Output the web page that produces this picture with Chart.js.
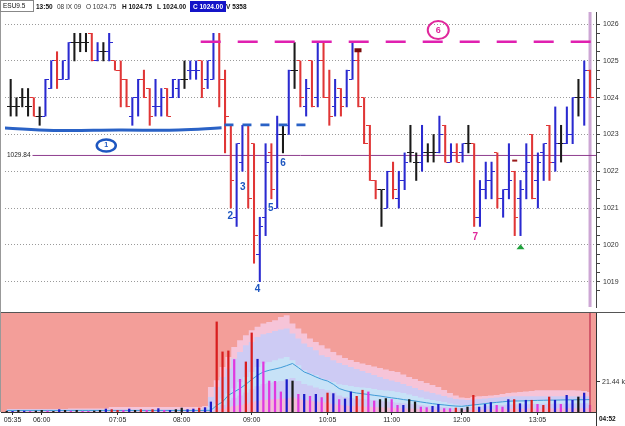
<!DOCTYPE html>
<html><head><meta charset="utf-8">
<script src="https://cdn.jsdelivr.net/npm/chart.js@4.4.0/dist/chart.umd.min.js"></script>
<style>
html,body{margin:0;padding:0;background:#fff;}
#wrap{position:relative;width:625px;height:426px;overflow:hidden;font-family:"Liberation Sans",Arial,sans-serif;}
canvas{position:absolute;left:0;}
#c1{top:0;}
#c2{top:313px;}
.hd{position:absolute;top:1px;height:11px;font-size:6.5px;font-weight:bold;line-height:11px;color:#111;white-space:nowrap;}
</style></head><body>
<div id="wrap">
<canvas id="c1" width="625" height="312"></canvas>
<canvas id="c2" width="625" height="113"></canvas>
<div style="position:absolute;left:0;top:312px;width:625px;height:1px;background:#555"></div>
<div style="position:absolute;left:0;top:0;width:1px;height:412px;background:#999"></div>
<div style="position:absolute;left:596px;top:412px;width:1px;height:14px;background:#333"></div>
<div id="hdr"></div>
<div class="hd" style="left:599px;top:413px;font-size:6.5px;">04:52</div>
</div>
<script>
// ---------- DATA ----------
const times = ('05:30 05:35 05:40 05:45 05:50 05:55 ' +
 '06:00 06:05 06:10 06:15 06:20 06:25 06:30 06:35 06:40 06:45 06:50 06:55 ' +
 '07:00 07:05 07:10 07:15 07:20 07:25 07:30 07:35 07:40 07:45 07:50 07:55 ' +
 '08:00 08:05 08:10 08:15 08:20 08:25 08:30 08:35 08:40 08:45 08:50 08:55 ' +
 '09:00 09:05 09:10 09:15 09:20 09:25 09:30 09:35 09:40 09:45 09:50 09:55 ' +
 '10:00 10:05 10:10 10:15 10:20 10:25 10:30 10:35 10:40 10:45 10:50 10:55 ' +
 '11:00 11:05 11:10 11:15 11:20 11:25 11:30 11:35 11:40 11:45 11:50 11:55 ' +
 '12:00 12:05 12:10 12:15 12:20 12:25 12:30 12:35 12:40 12:45 12:50 12:55 ' +
 '13:00 13:05 13:10 13:15 13:20 13:25 13:30 13:35 13:40 13:45 13:50').split(' ');

const timeTickLabels = ['05:35','06:00','07:05','08:00','09:00','10:05','11:00','12:00','13:05'];
const priceTickLabels = [1019,1020,1021,1022,1023,1024,1025,1026];
const volTickLabels = [21.44];

const open = [1023.75,1023.75,1024.0,1023.75,1024.0,1023.5,1023.5,1024.25,1025.0,1024.5,
 1024.5,1025.5,1025.5,1025.5,1025.75,1025.0,1025.25,1025.25,1025.0,1024.75,
 1024.5,1023.5,1024.0,1024.5,1024.25,1023.75,1023.75,1024.25,1024.0,1024.25,
 1024.5,1024.75,1024.75,1025.0,1024.5,1024.5,1025.5,1024.5,1023.25,1020.75,
 1022.25,1023.25,1022.75,1019.75,1020.75,1022.5,1021.0,1023.0,1023.25,1024.75,
 1025.0,1023.75,1025.0,1024.0,1025.0,1024.0,1023.75,1024.25,1024.0,1024.5,
 1025.0,1024.0,1023.25,1021.75,1021.5,1021.0,1022.0,1021.25,1021.75,1022.5,
 1022.25,1022.25,1022.5,1022.5,1022.5,1023.25,1022.25,1022.5,1022.5,1022.75,
 1022.75,1020.75,1021.5,1021.75,1022.5,1021.25,1021.5,1022.0,1021.25,1022.0,
 1023.0,1021.75,1022.5,1023.25,1022.25,1022.75,1022.75,1023.0,1024.0,1024.0,
 1024.75];
const high = [1024.5,1024.0,1024.25,1024.25,1024.0,1023.75,1024.5,1025.0,1025.25,1025.0,
 1025.5,1025.75,1025.75,1025.75,1025.75,1025.5,1025.5,1025.75,1025.0,1025.0,
 1024.5,1024.0,1024.5,1024.75,1024.25,1024.5,1024.25,1024.25,1024.5,1024.5,
 1025.0,1025.0,1025.0,1025.0,1025.0,1025.75,1025.75,1024.75,1023.25,1022.75,
 1023.25,1023.25,1022.75,1020.75,1022.75,1022.75,1023.5,1023.25,1024.75,1025.5,
 1025.0,1024.5,1025.0,1025.5,1025.5,1024.75,1024.5,1024.25,1024.75,1025.5,
 1025.25,1024.0,1023.25,1021.75,1021.5,1022.0,1022.25,1022.0,1022.5,1023.25,
 1022.5,1023.25,1022.75,1023.0,1023.5,1023.25,1022.75,1022.75,1022.75,1023.25,
 1022.75,1021.75,1022.25,1022.25,1022.5,1021.5,1022.75,1022.0,1021.75,1022.75,
 1023.0,1022.5,1022.75,1023.25,1023.75,1023.25,1023.75,1024.0,1024.5,1025.0,
 1024.75];
const low = [1023.5,1023.5,1023.75,1023.5,1023.5,1023.25,1023.5,1024.25,1024.25,1024.5,
 1024.5,1025.0,1025.25,1025.25,1025.0,1025.0,1025.0,1025.0,1024.75,1023.75,
 1023.75,1023.25,1023.5,1024.0,1023.25,1023.5,1023.5,1023.5,1024.0,1024.0,
 1024.25,1024.5,1024.5,1024.0,1024.25,1024.5,1023.75,1022.5,1021.0,1020.5,
 1022.0,1021.0,1019.5,1019.0,1020.25,1021.25,1021.0,1022.5,1023.0,1024.25,
 1023.75,1023.5,1023.75,1023.75,1024.0,1023.25,1023.5,1023.5,1023.75,1024.5,
 1023.75,1022.75,1021.75,1021.25,1020.5,1021.0,1021.25,1021.0,1021.5,1022.25,
 1021.75,1022.0,1022.25,1022.25,1022.5,1022.25,1022.25,1022.25,1022.25,1022.5,
 1020.5,1020.5,1021.25,1021.25,1021.0,1020.75,1021.25,1020.25,1020.25,1021.25,
 1021.25,1021.0,1021.75,1021.75,1022.0,1022.25,1022.75,1022.75,1023.5,1023.25,
 1024.0];
const close = [1023.75,1023.75,1024.0,1023.75,1023.5,1023.5,1024.5,1025.0,1024.5,1025.0,
 1025.5,1025.5,1025.5,1025.5,1025.0,1025.25,1025.25,1025.5,1024.75,1024.5,
 1023.75,1024.0,1024.5,1024.0,1023.5,1023.75,1024.0,1023.5,1024.5,1024.5,
 1024.5,1024.75,1024.75,1024.25,1025.0,1025.5,1024.5,1023.5,1021.75,1022.75,
 1023.25,1021.25,1020.25,1020.5,1022.25,1021.5,1023.0,1023.0,1024.75,1024.75,
 1024.0,1024.25,1023.75,1025.0,1024.0,1023.5,1024.0,1023.75,1024.75,1025.0,
 1023.75,1022.75,1021.75,1021.5,1021.5,1022.0,1021.5,1021.75,1022.25,1022.5,
 1022.25,1022.5,1022.5,1022.5,1023.0,1022.25,1022.5,1022.25,1022.75,1022.75,
 1020.75,1021.5,1021.75,1022.0,1021.25,1021.5,1021.75,1020.75,1021.5,1022.25,
 1021.25,1022.25,1022.75,1022.25,1022.75,1022.75,1023.0,1024.0,1024.0,1024.75,
 1024.0];
// bar colour codes: k = unchanged, r = down, b = up
const barKind = ('kkkkrkbbrb' + 'bkkkrbkbrr' + 'rbbrrbbrbb' + 'kbbrbbrrrb' + 'brrbbrbkbk' +
 'rbrbrrbrbb' + 'rrrrkbrbbk' + 'kbkkbrbrbk' + 'rbbbrbbrbb' + 'rbbrbkbbkb' + 'r').split('');

// volume (thousands)
const volume = [0.5,0.5,1.2,0.7,0.5,0.7,1.2,0.7,0.5,1.7,1.2,0.7,1.2,0.5,0.5,0.7,1.2,2.1,1.7,1.2,
 1.2,2.1,1.2,1.7,1.2,1.7,2.4,1.2,1.2,1.7,2.8,1.7,2.1,2.8,3.1,
 7.1,63.7,42.5,43.2,37.1,23.1,35.4,55.9,37.3,35.4,21.9,21.7,14.2,22.9,21.9,12.5,12.5,11.1,12.5,10.2,13.4,13.0,8.8,9.2,
 14.2,11.1,15.4,14.2,7.8,8.8,9.5,8.8,4.7,4.7,8.8,7.1,3.5,3.1,4.0,5.4,2.4,2.4,2.8,2.4,
 3.5,11.8,3.5,5.4,6.7,4.7,3.5,8.8,8.8,5.9,8.3,8.3,5.4,4.7,10.6,8.3,5.4,11.8,8.3,10.6,13.4,4.7];
const volKind = ('kbkbmkkmkb' + 'kmkmmkkbrr' + 'mbkrmrbmbk' + 'kbbrb' +
 'brrrmmrrbmmmmbkmbmbmrbmb' +
 'brrmmkkmmbkkmmbbmmrkkrbbbmmbrbbrmrrbmbbkbm').split('');

// time-of-day volume profile bands (thousands)
const band2Hi = [2.1,2.1,2.1,2.1,2.1,2.1,2.1,2.1,2.1,2.1,2.1,
 2.5,2.5,2.5,2.5,2.5,2.5,2.5,
 3.5,3.5,3.5,3.5,3.5,3.5,3.5,3.5,3.5,3.5,3.5,3.5,3.5,3.5,3.5,3.5,
 4.2,
 17.7,22.4,31.8,38.9,46,50.7,54.3,57.8,60.2,62.6,63.7,64.9,67.2,68.4,62.6,59,55.5,51.9,49.5,47.2,44.9,42.5,40.1,
 38.2,36.8,35.4,34.3,33.3,32.2,31.1,30.1,29,28.3,26.5,24.8,23.4,21.9,20.5,19.1,17.7,15.6,13.4,11.7,
 10.2,9.9,10.6,11.1,11.3,11.7,12,12.7,13.4,13.8,14.2,14.5,14.9,15.4,15.4,15.4,15.4,15.4,15.4,15.4,15.2,14.9,14.2];
const band1Hi = [1.8,1.8,1.8,1.8,1.8,1.8,1.8,1.8,1.8,1.8,1.8,1.8,1.8,1.8,1.8,1.8,1.8,
 1.8,1.8,1.8,1.8,1.8,1.8,1.8,1.8,1.8,1.8,1.8,1.8,1.8,1.8,1.8,1.8,1.8,
 2.8,
 10.6,17.7,24.8,30.7,37.8,42.5,47.2,49.5,53.1,55,55.9,57.3,58.3,59,55.5,51.9,48.4,46,43.7,40.1,38.9,36.6,34.7,
 33.3,31.8,30.4,29,27.6,26.2,24.8,23.4,22.3,21.2,19.8,18.4,17,15.6,14.5,13.4,12.4,11.3,10.3,9.2,
 8.8,8.5,8.8,9.2,9.6,9.9,10.3,10.6,11,11.1,11.1,11.1,11.1,11.1,11.1,11.1,11.1,11.1,11.1,11.1,11.1,11.1,11.1];
const band0Hi = [1.1,1.1,1.1,1.1,1.1,1.1,1.1,1.1,1.1,1.1,1.1,1.1,1.1,1.1,1.1,1.1,1.1,1.1,
 1.1,1.1,1.1,1.1,1.1,1.1,1.1,1.1,1.1,1.1,1.1,1.1,1.1,1.1,1.1,1.1,1.1,
 3.5,5.9,9.5,13,16.6,21.2,24.8,28.3,31.8,34.3,35.4,36.6,37.8,38.9,36.6,33,29.5,27.2,26,23.6,22.4,21.2,19.6,
 19.1,18.4,17.7,17.3,17,16.3,15.6,15.2,14.9,14.2,13.4,12.4,11.3,10.3,9.2,8.5,7.8,7.1,6,5.3,
 4.7,5,5.3,5.7,6,6.4,6.7,7.1,7.4,7.8,8.1,8.1,8.1,8.1,8.1,8.1,8.1,8.1,8.1,8.1,8.1,8.1,8.1];
const band0Lo = [0.6,0.6,0.6,0.6,0.6,0.6,0.6,0.6,0.6,0.6,0.6,0.6,0.6,0.6,0.6,0.6,0.6,0.6,
 0.6,0.6,0.6,0.6,0.6,0.6,0.6,0.6,0.6,0.6,0.6,0.6,0.6,0.6,0.6,0.6,0.6,
 0.8,3.3,5.0,8.3,10.0,11.6,13.7,16.0,18.2,19.8,20.6,21.3,22.0,23.0,24.0,22.0,19.8,18.7,17.4,16.2,15.3,13.7,11.6,
 10.6,9.9,9.4,9.0,8.7,8.3,7.9,7.4,7.0,6.6,6.2,5.8,5.5,5.0,4.5,4.1,3.8,3.5,3.2,2.9,
 2.8,3.2,3.5,3.8,4.1,4.5,4.8,5.0,5.3,5.5,5.5,5.5,5.7,5.7,5.8,5.9,5.9,6.0,6.0,6.0,6.1,6.1,6.2];
const band1Lo = [0.3,0.3,0.3,0.3,0.3,0.3,0.3,0.3,0.3,0.3,0.3,0.3,0.3,0.3,0.3,0.3,0.3,0.3,
 0.3,0.3,0.3,0.3,0.3,0.3,0.3,0.3,0.3,0.3,0.3,0.3,0.3,0.3,0.3,0.3,0.3,
 0.4,1.4,2.1,3.5,4.3,5.0,5.9,6.9,7.8,8.5,8.9,9.1,9.4,9.8,10.3,9.4,8.5,8.0,7.4,6.9,6.6,5.9,5.0,
 4.6,4.3,4.0,3.9,3.7,3.5,3.4,3.2,3.0,2.9,2.6,2.5,2.3,2.1,2.0,1.8,1.6,1.5,1.4,1.3,
 1.2,1.4,1.5,1.6,1.8,1.9,2.0,2.2,2.3,2.3,2.3,2.4,2.4,2.5,2.5,2.5,2.5,2.6,2.6,2.6,2.6,2.6,2.6];
const volAvg = [1.1,1.1,1.1,1.1,1.1,1.1,1.1,1.1,1.1,1.1,1.1,1.1,1.1,1.1,1.1,1.1,1.1,1.1,
 1.1,1.1,1.1,1.1,1.1,1.1,1.1,1.1,1.1,1.1,1.1,1.1,1.1,1.1,1.1,1.1,1.1,
 1.2,4.7,7.1,11.8,14.2,16.6,19.6,22.9,26,28.3,29.5,30.4,31.4,32.8,34.3,31.4,28.3,26.7,24.8,23.1,21.9,19.6,16.6,
 15.2,14.2,13.4,12.9,12.4,11.8,11.3,10.6,10,9.5,8.8,8.3,7.8,7.1,6.5,5.9,5.4,5,4.5,4.2,
 4,4.5,5,5.4,5.9,6.4,6.8,7.2,7.6,7.8,7.8,7.9,8.1,8.2,8.3,8.4,8.4,8.5,8.6,8.6,8.7,8.7,8.8];

// reference level and hand-drawn annotations (data coordinates: bar index, price)
const refLevel = 1022.43;
const refLabel = '1029.84';
const cursorIndex = 100;
const supportLine1 = [[-1.15,1023.18],[7.4,1023.11],[18.7,1023.12],[29.0,1023.12],[36.4,1023.18]];
const supportDashes = [[36.9,1023.26],[51.7,1023.26]];
const resistDashes = [[32.8,1025.52],[100.7,1025.52]];
const blueNumbers = [['2',37.9,1020.77],['3',40.05,1021.56],['4',42.6,1018.8],['5',44.9,1021.0],['6',47.0,1022.22]];
const pinkNumbers = [['7',80.2,1020.2]];
const blueEllipse = ['1',16.5,1022.7];
const pinkCircle = ['6',73.8,1025.84];
const greenArrows = [[88.0,1019.95]];
const darkRedMarks = [[59.95,1025.29,'big'],[87.0,1022.29,'small']];

const headerItems = [['ESU9.5','box'],['13:50','b'],['08 IX 09','n'],['O 1024.75','n'],['H 1024.75','b'],['L 1024.00','b'],['C 1024.00','hl'],['V 5358','b']];

// ---------- RENDER ----------
const hdrPos = [0,36,57,86,122,157,190,226];
const hdr = document.getElementById('hdr');
headerItems.forEach(([t,k],j)=>{
  const d = document.createElement('div');
  d.className='hd'; d.textContent=t; d.style.left=hdrPos[j]+'px';
  if(k==='box'){d.style.top='0px';d.style.width='30px';d.style.border='1px solid #888';d.style.paddingLeft='2px';d.style.fontWeight='normal';d.style.height='10px';d.style.lineHeight='10px';}
  if(k==='n'){d.style.fontWeight='normal';d.style.color='#333';}
  if(k==='hl'){d.style.background='#1414c8';d.style.color='#fff';d.style.padding='0 3px';}
  hdr.appendChild(d);
});

const FONT = '"Liberation Sans", Arial, sans-serif';
const pal = {k:'#1a1a1a', r:'#e03636', b:'#2a2ad0', m:'#e034e0'};
const volPal = {k:'#1a1a1a', r:'#d81e1e', b:'#1c1cc8', m:'#e038e0'};
const xMin = -0.98, xMax = 101.03;
const yMin = 1018.31, yMax = 1026.33;

function tickImg(color, side){
  const c = document.createElement('canvas'); c.width = 7; c.height = 1;
  const g = c.getContext('2d'); g.fillStyle = color;
  if (side === 'L') g.fillRect(0,0,3,1); else g.fillRect(4,0,3,1);
  return c;
}
const tickImgs = {};
Object.keys(pal).forEach(k => { tickImgs[k] = {L: tickImg(pal[k],'L'), R: tickImg(pal[k],'R')}; });

const timeTickIdx = timeTickLabels.map(t => times.indexOf(t));

const annot = {
  id:'annot',
  afterDatasetsDraw(chart){
    const {ctx, scales:{x, y}, chartArea:a} = chart;
    const X = v => x.getPixelForValue(v), Y = v => y.getPixelForValue(v);
    ctx.save();
    // reference label
    ctx.font = '6.5px ' + FONT;
    ctx.textBaseline = 'middle'; ctx.textAlign = 'left';
    const ry = Y(refLevel);
    const w = ctx.measureText(refLabel).width;
    ctx.fillStyle = '#fff'; ctx.fillRect(a.left, ry - 4, w + 4, 8);
    ctx.fillStyle = '#222'; ctx.fillText(refLabel, a.left + 2, ry);
    // numbers
    ctx.textAlign = 'center';
    ctx.font = 'bold 10px ' + FONT;
    ctx.fillStyle = '#1d56c0';
    blueNumbers.forEach(([t,i,p]) => ctx.fillText(t, X(i), Y(p)));
    ctx.fillStyle = '#e0289c';
    pinkNumbers.forEach(([t,i,p]) => ctx.fillText(t, X(i), Y(p)));
    // blue ellipse with 1
    ctx.strokeStyle = '#1d56c0'; ctx.lineWidth = 2.5;
    ctx.beginPath(); ctx.ellipse(X(blueEllipse[1]), Y(blueEllipse[2]), 9.5, 6, 0, 0, Math.PI*2); ctx.stroke();
    ctx.font = 'bold 7px ' + FONT; ctx.fillStyle = '#1d56c0';
    ctx.fillText(blueEllipse[0], X(blueEllipse[1]), Y(blueEllipse[2]));
    // pink circle with 6
    ctx.strokeStyle = '#e0289c'; ctx.lineWidth = 2;
    ctx.beginPath(); ctx.ellipse(X(pinkCircle[1]), Y(pinkCircle[2]), 10.5, 9, 0, 0, Math.PI*2); ctx.stroke();
    ctx.font = 'bold 9px ' + FONT; ctx.fillStyle = '#e0289c';
    ctx.fillText(pinkCircle[0], X(pinkCircle[1]), Y(pinkCircle[2]));
    // green arrows
    ctx.fillStyle = '#1fa03c';
    greenArrows.forEach(([i,p]) => {
      const cx = X(i), cy = Y(p);
      ctx.beginPath(); ctx.moveTo(cx, cy - 2.5); ctx.lineTo(cx + 4, cy + 2.5); ctx.lineTo(cx - 4, cy + 2.5); ctx.closePath(); ctx.fill();
    });
    // dark red marks
    darkRedMarks.forEach(([i,p,s]) => {
      const cx = X(i), cy = Y(p);
      ctx.fillStyle = s === 'big' ? '#7a0c0c' : '#9a1a1a';
      if (s === 'big') ctx.fillRect(cx - 3.5, cy - 2, 7, 4); else ctx.fillRect(cx - 2.5, cy - 1, 5, 2);
    });
    ctx.restore();
  }
};

const pts = (arr) => arr.map(([i,p]) => ({x:i, y:p}));

new Chart(document.getElementById('c1'), {
  type: 'bar',
  data: { datasets: [
    { type:'line', data: pts(resistDashes), borderColor:'#e020b0', borderWidth:2.6, borderDash:[20,17], pointRadius:0, order:1 },
    { type:'line', data: pts(supportLine1), borderColor:'#2a62c6', borderWidth:3, tension:0.4, pointRadius:0, order:1 },
    { type:'line', data: pts(supportDashes), borderColor:'#2a62c6', borderWidth:2.6, borderDash:[9,9], pointRadius:0, order:1 },
    { type:'line', showLine:false, data: open.map((v,i)=>({x:i, y:v})),
      pointStyle: c => tickImgs[barKind[c.dataIndex]].L, pointRadius:3, order:3 },
    { type:'line', showLine:false, data: close.map((v,i)=>({x:i, y:v})),
      pointStyle: c => tickImgs[barKind[c.dataIndex]].R, pointRadius:3, order:3 },
    { type:'bar', data: times.map((t,i)=>({x:i, y:[low[i], high[i]]})),
      backgroundColor: barKind.map(k => pal[k]), barThickness:1.4, order:4 },
    { type:'line', data: [{x:xMin, y:refLevel},{x:xMax, y:refLevel}], borderColor:'#8e3d8e', borderWidth:1, pointRadius:0, order:6 },
    { type:'line', data: [{x:cursorIndex, y:yMin},{x:cursorIndex, y:yMax}], borderColor:'rgba(196,150,204,0.85)', borderWidth:3, pointRadius:0, order:7 }
  ]},
  options: {
    responsive:false, devicePixelRatio:1, animation:false,
    layout:{padding:{top:12, bottom:2, left:1, right:0}},
    plugins:{legend:{display:false}, tooltip:{enabled:false}},
    scales:{
      x:{type:'linear', display:false, min:xMin, max:xMax, offset:false, grid:{offset:false}},
      y:{type:'linear', position:'right', min:yMin, max:yMax,
        ticks:{stepSize:0.25, autoSkip:false, color:'#333', padding:3, font:{size:7, family:FONT},
          callback: v => priceTickLabels.includes(v) ? String(v) : ''},
        afterBuildTicks: s => { s.ticks = s.ticks.filter(t => Math.abs(t.value*4 - Math.round(t.value*4)) < 1e-6); },
        grid:{color: c => (c.tick && priceTickLabels.includes(c.tick.value)) ? '#9a9a9a' : 'rgba(0,0,0,0)',
          tickColor:'#444', tickLength:4, lineWidth:1},
        border:{display:true, color:'#444', dash:[1,2]},
        afterFit: s => { s.width = 29; s.paddingTop = 0; s.paddingBottom = 0; }
      }
    }
  },
  plugins:[annot]
});

const bgPlugin = {
  id:'bg',
  beforeDraw(chart){
    const {ctx, chartArea:a} = chart;
    ctx.save(); ctx.fillStyle = '#f39e99';
    ctx.fillRect(a.left, a.top, a.right - a.left, a.bottom - a.top);
    ctx.restore();
  }
};
const band = (arr, color, order) => ({ type:'line', data: arr.map((v,i)=>({x:i, y:v})), stepped:'middle',
  fill:'origin', backgroundColor: color, borderWidth:0, borderColor:'rgba(0,0,0,0)', pointRadius:0, order });

new Chart(document.getElementById('c2'), {
  type:'bar',
  data:{ datasets:[
    { type:'line', data:[{x:cursorIndex, y:0},{x:cursorIndex, y:70}], borderColor:'#c8445c', borderWidth:1.5, pointRadius:0, order:0 },
    { type:'bar', data: volume.map((v,i)=>({x:i, y:v})), backgroundColor: volKind.map(k => volPal[k]), barThickness:1.6, order:1 },
    { type:'line', data: volAvg.map((v,i)=>({x:i, y:v})), borderColor:'#3f9bd8', borderWidth:1, pointRadius:0, order:2 },
    band(band1Lo, '#f2bcd8', 3),
    band(band0Lo, '#cdcbf4', 4),
    band(band0Hi, '#c7e2f7', 5),
    band(band1Hi, '#cdcbf4', 6),
    band(band2Hi, '#f6c4d8', 7)
  ]},
  options:{
    responsive:false, devicePixelRatio:1, animation:false,
    layout:{padding:{top:0, bottom:0, left:1, right:0}},
    plugins:{legend:{display:false}, tooltip:{enabled:false}},
    scales:{
      x:{type:'linear', min:xMin, max:xMax, offset:false,
        afterBuildTicks: s => { s.ticks = timeTickIdx.map(v => ({value:v})); },
        ticks:{autoSkip:false, maxRotation:0, color:'#222', padding:1, font:{size:7, family:FONT},
          callback: v => times[v] || ''},
        grid:{drawOnChartArea:false, tickLength:3, tickColor:'#333', offset:false},
        border:{display:true, color:'#333'},
        afterFit: s => { s.height = 14; s.paddingLeft = 0; s.paddingRight = 0; }
      },
      y:{type:'linear', position:'right', min:0, max:70,
        afterBuildTicks: s => { s.ticks = volTickLabels.map(v => ({value:v})); },
        ticks:{color:'#333', padding:2, font:{size:7, family:FONT}, callback: v => v.toFixed(2) + ' k'},
        grid:{drawOnChartArea:false, tickLength:4, tickColor:'#333'},
        border:{display:true, color:'#333'},
        afterFit: s => { s.width = 29; s.paddingTop = 0; s.paddingBottom = 0; }
      }
    }
  },
  plugins:[bgPlugin]
});
</script>
</body></html>
